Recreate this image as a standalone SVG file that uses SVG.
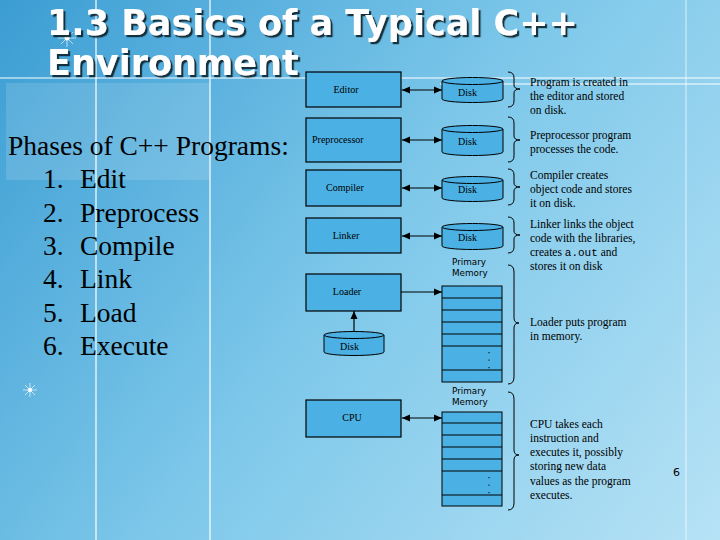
<svg xmlns="http://www.w3.org/2000/svg" width="720" height="540" viewBox="0 0 720 540">
  <defs>
    <linearGradient id="bg" x1="0" y1="0" x2="720" y2="540" gradientUnits="userSpaceOnUse">
      <stop offset="0" stop-color="#3b9dd3"/>
      <stop offset="0.5" stop-color="#7ec8ea"/>
      <stop offset="1" stop-color="#b6e2f5"/>
    </linearGradient>
    <filter id="shadow" x="-5%" y="-20%" width="110%" height="140%">
      <feDropShadow dx="2.2" dy="2.2" stdDeviation="0.4" flood-color="#10202e" flood-opacity="0.9"/>
    </filter>
    <marker id="ah" viewBox="0 0 8 8" refX="8" refY="4" markerWidth="8" markerHeight="8" markerUnits="userSpaceOnUse" orient="auto-start-reverse">
      <path d="M0,0.5 L8,4 L0,7.5 z" fill="#000"/>
    </marker>
    <style>
      .box { fill: #4bb0e3; stroke: #000; stroke-width: 1.2; }
      .disk { fill: #4bb0e3; stroke: #000; stroke-width: 1; }
      .lbl { font-family: "Liberation Serif", "Times New Roman", serif; font-size: 10px; fill: #000; }
      .desc { font-family: "Liberation Serif", "Times New Roman", serif; font-size: 11.5px; fill: #000; }
      .mono { font-family: "Liberation Mono", "Courier New", monospace; font-size: 11px; }
      .mem { font-family: "DejaVu Sans", Verdana, sans-serif; font-size: 8.8px; fill: #000; }
      .cell { fill: #4bb0e3; stroke: #000; stroke-width: 1; }
      .conn { stroke: #000; stroke-width: 1.2; fill: none; }
      .brace { stroke: #000; stroke-width: 1; fill: none; }
      .title { font-family: "DejaVu Sans", Verdana, sans-serif; font-weight: bold; font-size: 35px; fill: #ffffff; }
      .body { font-family: "Liberation Serif", "Times New Roman", serif; font-size: 27.5px; fill: #000; }
      .grid { stroke: #ffffff; stroke-width: 1.2; }
    </style>
  </defs>

  <!-- background -->
  <rect x="0" y="0" width="720" height="540" fill="url(#bg)"/>
  <rect x="6" y="83" width="204" height="97" fill="#ffffff" fill-opacity="0.13"/>
  <g class="grid">
    <line x1="96" y1="0" x2="96" y2="540"/>
    <line x1="210" y1="0" x2="210" y2="540"/>
    <line x1="686" y1="0" x2="686" y2="540" stroke-opacity="0.6"/>
    <line x1="0" y1="78" x2="720" y2="78"/>
    <line x1="440" y1="84" x2="720" y2="84"/>
  </g>
  <g fill="#ffffff" stroke="#ffffff">
    <g transform="translate(67,38)" stroke-width="0.8" stroke-opacity="0.8">
      <line x1="-9" y1="0" x2="9" y2="0"/><line x1="0" y1="-9" x2="0" y2="9"/>
      <line x1="-6" y1="-6" x2="6" y2="6"/><line x1="-6" y1="6" x2="6" y2="-6"/>
      <circle r="2.5" stroke="none"/>
    </g>
    <g transform="translate(30,390)" stroke-width="0.8" stroke-opacity="0.8">
      <line x1="-7" y1="0" x2="7" y2="0"/><line x1="0" y1="-7" x2="0" y2="7"/>
      <line x1="-5" y1="-5" x2="5" y2="5"/><line x1="-5" y1="5" x2="5" y2="-5"/>
      <circle r="2" stroke="none"/>
    </g>
  </g>

  <!-- title -->
  <g id="title" class="title" filter="url(#shadow)">
    <text x="47" y="35">1.3 Basics of a Typical C++</text>
    <text x="47" y="75">Environment</text>
  </g>

  <!-- left list -->
  <g id="phases" class="body">
    <text x="8" y="155">Phases of C++ Programs:</text>
    <text x="43" y="188">1.</text><text x="80" y="188">Edit</text>
    <text x="43" y="222">2.</text><text x="80" y="222">Preprocess</text>
    <text x="43" y="255">3.</text><text x="80" y="255">Compile</text>
    <text x="43" y="288">4.</text><text x="80" y="288">Link</text>
    <text x="43" y="322">5.</text><text x="80" y="322">Load</text>
    <text x="43" y="355">6.</text><text x="80" y="355">Execute</text>
  </g>

  <!-- connectors -->
  <g id="connectors" class="conn">
    <line x1="402" y1="90" x2="442" y2="90" marker-start="url(#ah)" marker-end="url(#ah)"/>
    <line x1="402" y1="140" x2="442" y2="140" marker-start="url(#ah)" marker-end="url(#ah)"/>
    <line x1="402" y1="188" x2="442" y2="188" marker-start="url(#ah)" marker-end="url(#ah)"/>
    <line x1="402" y1="236" x2="442" y2="236" marker-start="url(#ah)" marker-end="url(#ah)"/>
    <line x1="401" y1="292" x2="442" y2="292" marker-end="url(#ah)"/>
    <line x1="354" y1="334" x2="354" y2="311" marker-end="url(#ah)"/>
    <line x1="402" y1="418" x2="442" y2="418" marker-start="url(#ah)" marker-end="url(#ah)"/>
  </g>

  <!-- process boxes -->
  <g id="editor"><rect class="box" x="306" y="72" width="95" height="35"/><text class="lbl" x="346" y="93" text-anchor="middle">Editor</text></g>
  <g id="preprocessor"><rect class="box" x="306" y="118" width="95" height="44"/><text class="lbl" x="312" y="143">Preprocessor</text></g>
  <g id="compiler"><rect class="box" x="306" y="170" width="95" height="36"/><text class="lbl" x="345" y="191" text-anchor="middle">Compiler</text></g>
  <g id="linker"><rect class="box" x="306" y="218" width="95" height="35"/><text class="lbl" x="346" y="239" text-anchor="middle">Linker</text></g>
  <g id="loader"><rect class="box" x="306" y="274" width="95" height="37"/><text class="lbl" x="347" y="295" text-anchor="middle">Loader</text></g>
  <g id="cpu"><rect class="box" x="306" y="400" width="95" height="37"/><text class="lbl" x="352" y="421" text-anchor="middle">CPU</text></g>

  <!-- disks -->
  <g id="disk1">
    <path class="disk" d="M442,81 L442,99 A30.5,3.5 0 0 0 503,99 L503,81"/>
    <ellipse class="disk" cx="472.5" cy="81" rx="30.5" ry="3.5"/>
    <text class="lbl" x="458" y="96">Disk</text>
  </g>
  <g id="disk2">
    <path class="disk" d="M442,129 L442,152 A30.5,3.5 0 0 0 503,152 L503,129"/>
    <ellipse class="disk" cx="472.5" cy="129" rx="30.5" ry="3.5"/>
    <text class="lbl" x="458" y="145">Disk</text>
  </g>
  <g id="disk3">
    <path class="disk" d="M442,180 L442,198 A30.5,3.5 0 0 0 503,198 L503,180"/>
    <ellipse class="disk" cx="472.5" cy="180" rx="30.5" ry="3.5"/>
    <text class="lbl" x="458" y="193">Disk</text>
  </g>
  <g id="disk4">
    <path class="disk" d="M442,227 L442,246 A30.5,3.5 0 0 0 503,246 L503,227"/>
    <ellipse class="disk" cx="472.5" cy="227" rx="30.5" ry="3.5"/>
    <text class="lbl" x="458" y="241">Disk</text>
  </g>
  <g id="disk5">
    <path class="disk" d="M324,335 L324,352 A30,3.5 0 0 0 384,352 L384,335"/>
    <ellipse class="disk" cx="354" cy="335" rx="30" ry="3.5"/>
    <text class="lbl" x="340" y="350">Disk</text>
  </g>

  <!-- primary memory 1 -->
  <g id="memory1">
    <text class="mem" x="452" y="265">Primary</text>
    <text class="mem" x="452" y="276">Memory</text>
    <rect class="cell" x="442" y="286" width="60" height="96"/>
    <g class="conn" stroke-width="1">
      <line x1="442" y1="298" x2="502" y2="298"/>
      <line x1="442" y1="310" x2="502" y2="310"/>
      <line x1="442" y1="322" x2="502" y2="322"/>
      <line x1="442" y1="334" x2="502" y2="334"/>
      <line x1="442" y1="346" x2="502" y2="346"/>
      <line x1="442" y1="370" x2="502" y2="370"/>
    </g>
    <g fill="#000"><rect x="488.5" y="352" width="1" height="1.2"/><rect x="488.5" y="359.5" width="1" height="1.2"/><rect x="488.5" y="367" width="1" height="1.2"/></g>
  </g>

  <!-- primary memory 2 -->
  <g id="memory2">
    <text class="mem" x="452" y="394">Primary</text>
    <text class="mem" x="452" y="405">Memory</text>
    <rect class="cell" x="442" y="412" width="60" height="94"/>
    <g class="conn" stroke-width="1">
      <line x1="442" y1="423" x2="502" y2="423"/>
      <line x1="442" y1="435" x2="502" y2="435"/>
      <line x1="442" y1="447" x2="502" y2="447"/>
      <line x1="442" y1="459" x2="502" y2="459"/>
      <line x1="442" y1="471" x2="502" y2="471"/>
      <line x1="442" y1="495" x2="502" y2="495"/>
    </g>
    <g fill="#000"><rect x="488.5" y="477" width="1" height="1.2"/><rect x="488.5" y="484.5" width="1" height="1.2"/><rect x="488.5" y="492" width="1" height="1.2"/></g>
  </g>

  <!-- braces -->
  <g id="braces" class="brace">
    <path d="M508,72 Q514,72 514,78 L514,85 Q514,89 520,89 Q514,89 514,93 L514,101 Q514,107 508,107"/>
    <path d="M508,117 Q514,117 514,123 L514,136 Q514,140 520,140 Q514,140 514,144 L514,156 Q514,162 508,162"/>
    <path d="M508,169 Q514,169 514,175 L514,183 Q514,187 520,187 Q514,187 514,191 L514,199 Q514,205 508,205"/>
    <path d="M508,217 Q514,217 514,223 L514,231 Q514,235 520,235 Q514,235 514,239 L514,247 Q514,253 508,253"/>
    <path d="M508,265 Q514,265 514,272 L514,318 Q514,323 519,323 Q514,323 514,328 L514,377 Q514,384 508,384"/>
    <path d="M508,392 Q514,392 514,399 L514,450 Q514,455 519,455 Q514,455 514,460 L514,503 Q514,510 508,510"/>
  </g>

  <!-- descriptions -->
  <g id="desc1" class="desc">
    <text x="530" y="86">Program is created in</text>
    <text x="530" y="100">the editor and stored</text>
    <text x="530" y="114">on disk.</text>
  </g>
  <g id="desc2" class="desc">
    <text x="530" y="139">Preprocessor program</text>
    <text x="530" y="153">processes the code.</text>
  </g>
  <g id="desc3" class="desc">
    <text x="530" y="179">Compiler creates</text>
    <text x="530" y="193">object code and stores</text>
    <text x="530" y="207">it on disk.</text>
  </g>
  <g id="desc4" class="desc">
    <text x="530" y="228">Linker links the object</text>
    <text x="530" y="242">code with the libraries,</text>
    <text x="530" y="256">creates <tspan class="mono">a.out</tspan> and</text>
    <text x="530" y="270">stores it on disk</text>
  </g>
  <g id="desc5" class="desc">
    <text x="530" y="326">Loader puts program</text>
    <text x="530" y="340">in memory.</text>
  </g>
  <g id="desc6" class="desc">
    <text x="530" y="428">CPU takes each</text>
    <text x="530" y="442">instruction and</text>
    <text x="530" y="456">executes it, possibly</text>
    <text x="530" y="470">storing new data</text>
    <text x="530" y="485">values as the program</text>
    <text x="530" y="499">executes.</text>
  </g>

  <text x="673" y="476" font-family="DejaVu Sans, sans-serif" font-size="11" fill="#000">6</text>
</svg>
